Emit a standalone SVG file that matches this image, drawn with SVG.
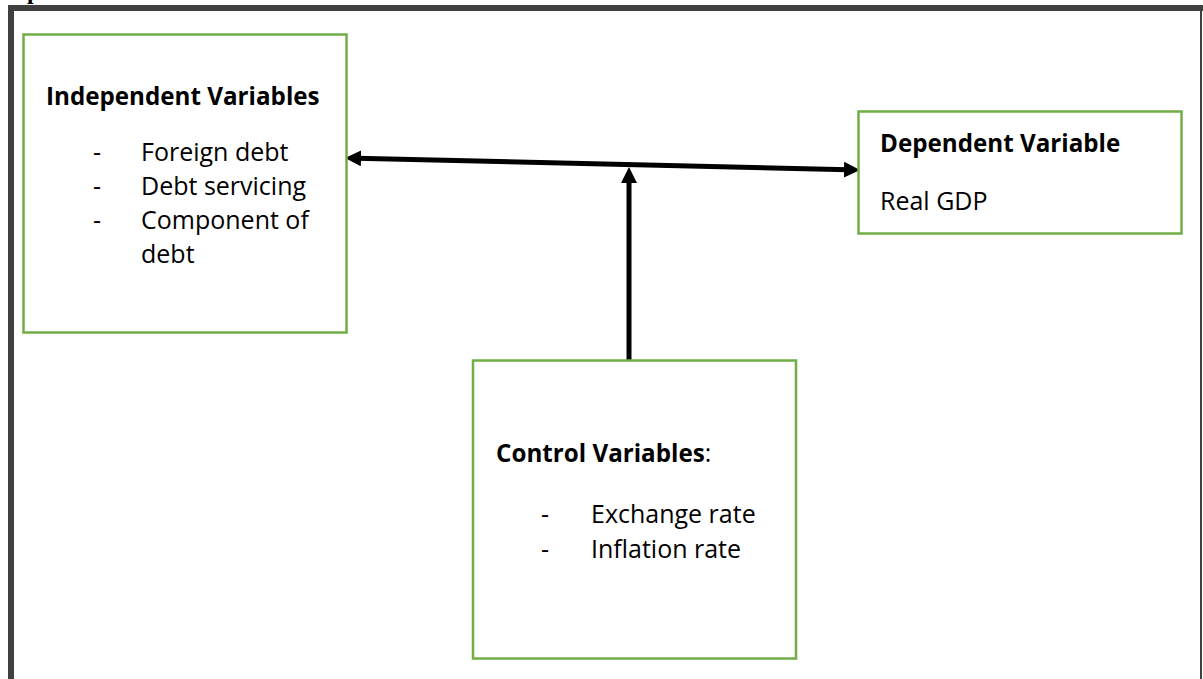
<svg xmlns="http://www.w3.org/2000/svg" width="1203" height="679" viewBox="0 0 1203 679">
  <style>
    .box { fill: #ffffff; stroke: #70AD47; stroke-width: 2.5; }
    .t { font-family: "Open Sans", "Liberation Sans", sans-serif; font-size: 25px; fill: #000; }
    .b { font-weight: bold; font-size: 24.2px; }
    .conn { stroke: #000; stroke-width: 5; fill: none; }
    .frame { fill: #404040; }
  </style>
  <defs>
    <marker id="ah" markerUnits="userSpaceOnUse" markerWidth="18" markerHeight="18" refX="4" refY="8" orient="auto-start-reverse">
      <path d="M0,0 L16,8 L0,16 z" fill="#000"/>
    </marker>
  </defs>
  <rect width="1203" height="679" fill="#ffffff"/>
  <text x="27" y="-1" font-family="Liberation Serif, serif" font-weight="bold" font-size="24" fill="#000">p</text>
  <g id="frame">
    <rect class="frame" x="8" y="5" width="1195" height="6"/>
    <rect class="frame" x="8" y="5" width="6" height="674"/>
    <rect class="frame" x="1200" y="5" width="2" height="674"/>
  </g>
  <g id="connectors">
    <path class="conn" d="M357,158.2 L848,169.8" marker-start="url(#ah)" marker-end="url(#ah)"/>
    <path class="conn" d="M629,365 L629,179" marker-end="url(#ah)"/>
  </g>
  <g id="independent">
    <rect class="box" x="23.5" y="34.5" width="323" height="298"/>
    <text class="t b" x="46" y="105">Independent Variables</text>
    <text class="t" x="93" y="161">-</text><text class="t" x="141" y="161">Foreign debt</text>
    <text class="t" x="93" y="195">-</text><text class="t" x="141" y="195">Debt servicing</text>
    <text class="t" x="93" y="229">-</text><text class="t" x="141" y="229">Component of</text>
    <text class="t" x="141" y="263">debt</text>
  </g>
  <g id="dependent">
    <rect class="box" x="858.5" y="111.5" width="323" height="122"/>
    <text class="t b" x="880" y="152">Dependent Variable</text>
    <text class="t" x="880" y="210">Real GDP</text>
  </g>
  <g id="control">
    <rect class="box" x="473" y="360.5" width="323" height="298"/>
    <text class="t" x="496" y="462"><tspan class="b">Control Variables</tspan>:</text>
    <text class="t" x="541" y="523">-</text><text class="t" x="591" y="523">Exchange rate</text>
    <text class="t" x="541" y="558">-</text><text class="t" x="591" y="558">Inflation rate</text>
  </g>
</svg>
